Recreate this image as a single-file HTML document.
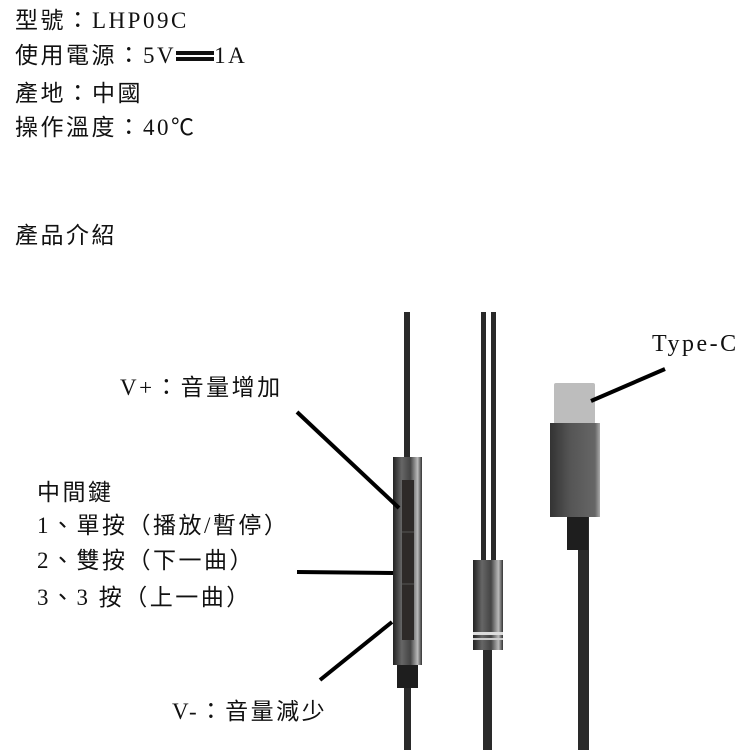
<!DOCTYPE html>
<html><head><meta charset="utf-8"><style>
body{margin:0;width:750px;height:750px;background:#fff;position:relative;overflow:hidden;font-family:"Liberation Serif","Noto Sans CJK TC","Noto Serif CJK SC",serif;color:#111}
.t{position:absolute;font-size:23px;letter-spacing:2.5px;white-space:nowrap;line-height:1}
.c{display:inline-block;width:26px;text-align:center}
</style></head><body>
<div class="t" style="left:15px;top:9px">型號<span class="c">：</span>LHP09C</div>
<div class="t" style="left:15px;top:44px">使用電源<span class="c">：</span>5V<span style="display:inline-block;width:38px;height:10px;vertical-align:2px;background:linear-gradient(#111 0 4px,transparent 4px 6px,#111 6px 10px)"></span>1A</div>
<div class="t" style="left:15px;top:82px">產地<span class="c">：</span>中國</div>
<div class="t" style="left:15px;top:116px">操作溫度<span class="c">：</span>40℃</div>
<div class="t" style="left:15px;top:224px">產品介紹</div>
<div class="t" style="left:120px;top:376px">V+<span class="c">：</span>音量增加</div>
<div class="t" style="left:37px;top:481px">中間鍵</div>
<div class="t" style="left:37px;top:514px">1、單按（播放/暫停）</div>
<div class="t" style="left:37px;top:549px">2、雙按（下一曲）</div>
<div class="t" style="left:37px;top:586px">3、3 按（上一曲）</div>
<div class="t" style="left:172px;top:700px">V-<span class="c">：</span>音量減少</div>
<div class="t" style="left:652px;top:332px;font-size:24px">Type-C</div>
<svg width="750" height="750" style="position:absolute;left:0;top:0">
<defs>
<linearGradient id="m" x1="0" x2="1"><stop offset="0" stop-color="#222"/><stop offset=".3" stop-color="#666"/><stop offset=".6" stop-color="#444"/><stop offset=".85" stop-color="#bbb"/><stop offset="1" stop-color="#333"/></linearGradient>
<linearGradient id="b" x1="0" x2="1"><stop offset="0" stop-color="#333"/><stop offset=".4" stop-color="#555"/><stop offset=".9" stop-color="#666"/><stop offset="1" stop-color="#aaa"/></linearGradient>
</defs>
<g fill="#2a2a2a">
<rect x="404" y="312" width="6" height="150"/>
<rect x="404" y="685" width="7" height="65"/>
<rect x="481" y="312" width="5" height="250"/>
<rect x="491" y="312" width="5" height="250"/>
<rect x="483" y="648" width="9" height="102"/>
<rect x="578" y="517" width="11" height="233"/>
</g>
<rect x="393" y="457" width="29" height="208" fill="url(#m)"/>
<rect x="402" y="480" width="12" height="160" fill="#2e2a28"/>
<line x1="402" y1="532" x2="414" y2="532" stroke="#555"/>
<line x1="402" y1="584" x2="414" y2="584" stroke="#555"/>
<rect x="397" y="665" width="21" height="23" fill="#1e1e1e"/>
<rect x="473" y="560" width="30" height="90" fill="url(#m)"/>
<rect x="473" y="632" width="30" height="3" fill="#ddd"/>
<rect x="473" y="638" width="30" height="2" fill="#ccc"/>
<rect x="554" y="383" width="41" height="41" fill="#bdbdbd" rx="2"/>
<rect x="550" y="423" width="50" height="94" fill="url(#b)"/>
<rect x="567" y="517" width="21" height="33" fill="#1e1e1e"/>
<g stroke="#000" stroke-width="4" stroke-linecap="butt">
<line x1="297" y1="412" x2="399" y2="508"/>
<line x1="297" y1="572" x2="393" y2="573"/>
<line x1="320" y1="680" x2="392" y2="622"/>
<line x1="591" y1="401" x2="665" y2="369"/>
</g>
</svg>
</body></html>
